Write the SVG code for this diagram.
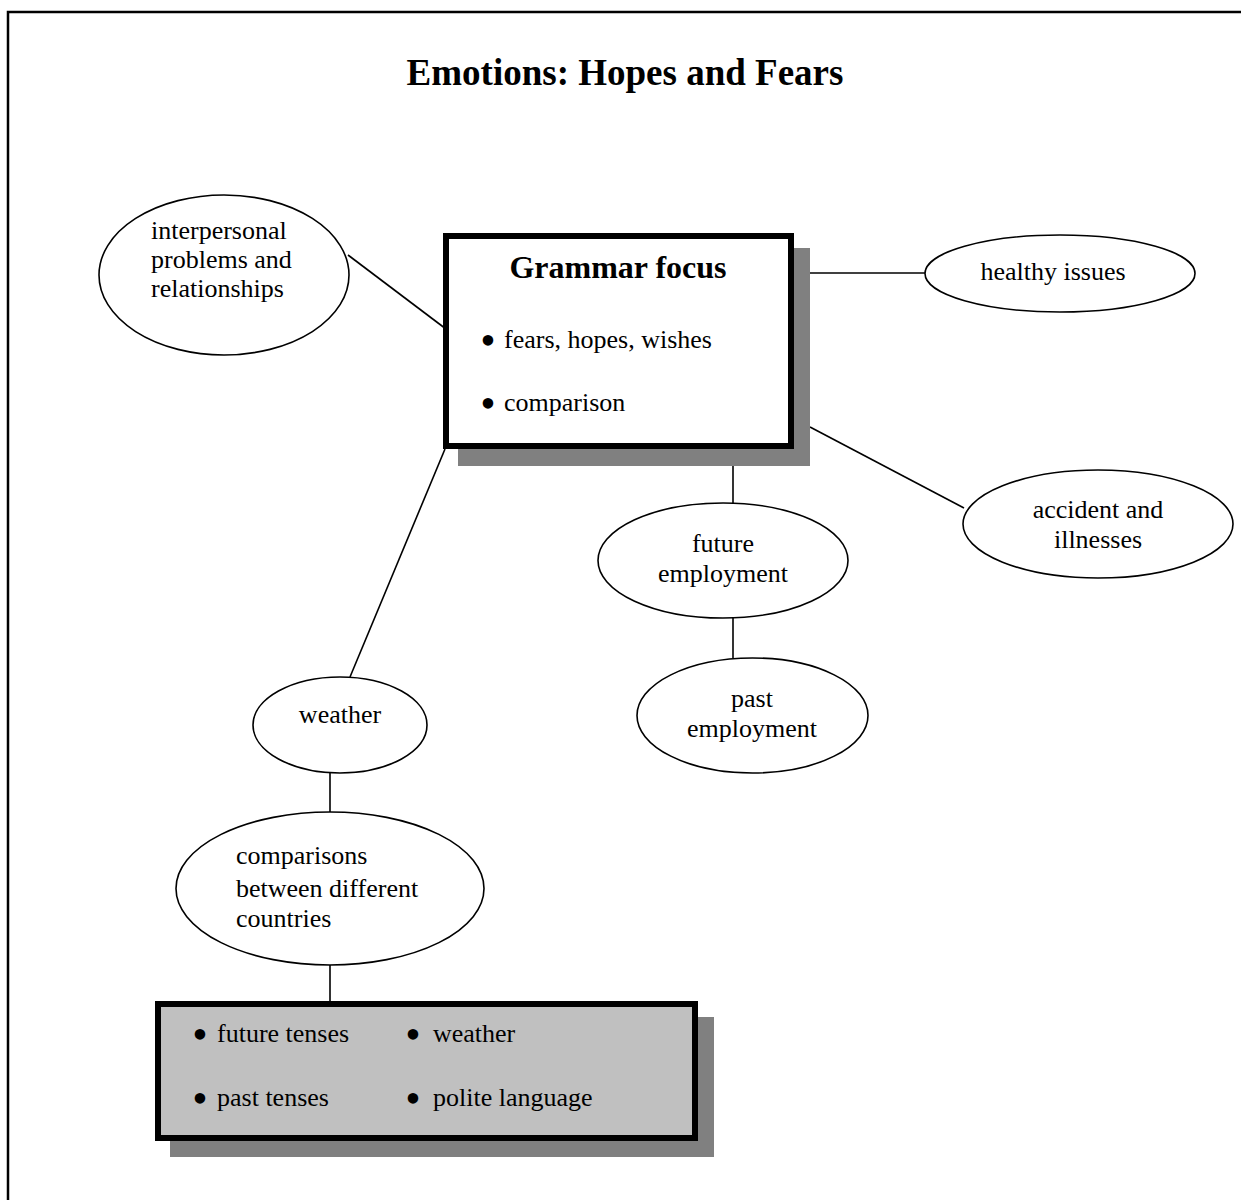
<svg xmlns="http://www.w3.org/2000/svg" width="1241" height="1200" viewBox="0 0 1241 1200">
<style>
.t{font-family:"Liberation Serif","Times New Roman",serif;font-size:26px;fill:#000}
.c{text-anchor:middle}
.b{font-weight:bold}
.u{font-family:"Liberation Serif","Times New Roman",serif;font-size:44px;fill:#000;text-anchor:middle}
.e{fill:#fff;stroke:#000;stroke-width:1.6}
.l{stroke:#000;stroke-width:1.6;fill:none}
.sh{fill:#808080}
</style>
<rect width="1241" height="1200" fill="#fff"/>
<path d="M8 1200 V12 H1241" fill="none" stroke="#000" stroke-width="2.5"/>
<text class="t c b" x="625" y="85" style="font-size:37px">Emotions: Hopes and Fears</text>
<g id="connectors">
<line class="l" x1="348" y1="255" x2="446" y2="329"/>
<line class="l" x1="810" y1="273" x2="925" y2="273"/>
<line class="l" x1="810" y1="427" x2="964" y2="508"/>
<line class="l" x1="733" y1="466" x2="733" y2="503"/>
<line class="l" x1="733" y1="618" x2="733" y2="658"/>
<line class="l" x1="445" y1="449" x2="350" y2="677"/>
<line class="l" x1="330" y1="773" x2="330" y2="812"/>
<line class="l" x1="330" y1="965" x2="330" y2="1002"/>
</g>
<g id="grammar-focus">
<rect class="sh" x="458" y="248" width="352" height="218"/>
<rect x="446" y="236" width="345" height="210" fill="#fff" stroke="#000" stroke-width="6"/>
<text class="t c b" x="618" y="278" style="font-size:32px">Grammar focus</text>
<text class="u" x="488" y="355">•</text>
<text class="t" x="504" y="348">fears, hopes, wishes</text>
<text class="u" x="488" y="418">•</text>
<text class="t" x="504" y="411">comparison</text>
</g>
<g id="interpersonal">
<ellipse class="e" cx="224" cy="275" rx="125" ry="80"/>
<text class="t" x="151" y="239">interpersonal</text>
<text class="t" x="151" y="268">problems and</text>
<text class="t" x="151" y="297">relationships</text>
</g>
<g id="healthy-issues">
<ellipse class="e" cx="1060" cy="273.5" rx="135" ry="38.5"/>
<text class="t c" x="1053" y="280">healthy issues</text>
</g>
<g id="accident">
<ellipse class="e" cx="1098" cy="524" rx="135" ry="54"/>
<text class="t c" x="1098" y="518">accident and</text>
<text class="t c" x="1098" y="548">illnesses</text>
</g>
<g id="future-employment">
<ellipse class="e" cx="723" cy="560.5" rx="125" ry="57.5"/>
<text class="t c" x="723" y="552">future</text>
<text class="t c" x="723" y="582">employment</text>
</g>
<g id="past-employment">
<ellipse class="e" cx="752.5" cy="715.5" rx="115.5" ry="57.5"/>
<text class="t c" x="752" y="707">past</text>
<text class="t c" x="752" y="737">employment</text>
</g>
<g id="weather">
<ellipse class="e" cx="340" cy="725" rx="87" ry="48"/>
<text class="t c" x="340" y="723">weather</text>
</g>
<g id="comparisons">
<ellipse class="e" cx="330" cy="888.5" rx="154" ry="76.5"/>
<text class="t" x="236" y="864">comparisons</text>
<text class="t" x="236" y="897">between different</text>
<text class="t" x="236" y="927">countries</text>
</g>
<g id="language-box">
<rect class="sh" x="170" y="1017" width="544" height="140"/>
<rect x="158" y="1004" width="537" height="134" fill="#c0c0c0" stroke="#000" stroke-width="6"/>
<text class="u" x="200" y="1049">•</text>
<text class="t" x="217" y="1042">future tenses</text>
<text class="u" x="413" y="1049">•</text>
<text class="t" x="433" y="1042">weather</text>
<text class="u" x="200" y="1113">•</text>
<text class="t" x="217" y="1106">past tenses</text>
<text class="u" x="413" y="1113">•</text>
<text class="t" x="433" y="1106">polite language</text>
</g>
</svg>
